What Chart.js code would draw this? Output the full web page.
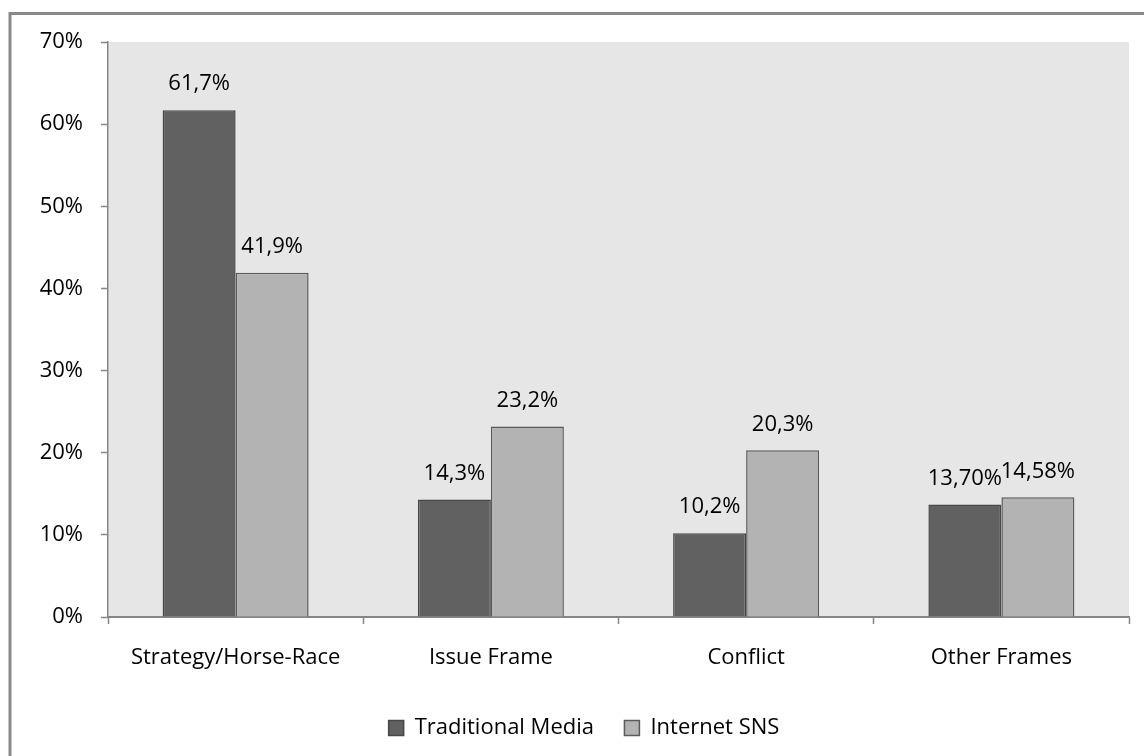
<!DOCTYPE html>
<html>
<head>
<meta charset="utf-8">
<script src="https://cdn.jsdelivr.net/npm/chart.js@4/dist/chart.umd.min.js"></script>
<style>
  html, body { margin: 0; padding: 0; background: #ffffff; }
  #wrap { width: 1144px; height: 756px; position: relative; }
</style>
</head>
<body>
<div id="wrap"><canvas id="chart" width="1144" height="756"></canvas></div>
<script>
// Share of news frames by media type (percent)
const categories = ['Strategy/Horse-Race', 'Issue Frame', 'Conflict', 'Other Frames'];
const traditionalMedia = [61.7, 14.3, 10.2, 13.70];
const internetSNS = [41.9, 23.2, 20.3, 14.58];
const labelDecimals = [1, 1, 1, 2];
const yTicks = [0, 10, 20, 30, 40, 50, 60, 70];

const FONT = "'Open Sans', 'DejaVu Sans', sans-serif";
const FONT_SIZE = 22;
const AXIS_GRAY = '#868686';

// Decimal comma, as printed on the bars
function pct(v, d) {
  return v.toFixed(d).replace('.', ',') + '%';
}

const framePlugin = {
  id: 'frame',
  beforeDraw(chart) {
    const { ctx, chartArea: a } = chart;
    ctx.save();
    ctx.fillStyle = '#ffffff';
    ctx.fillRect(0, 0, chart.width, chart.height);
    // outer border of the chart object
    ctx.strokeStyle = '#898989';
    ctx.lineWidth = 3;
    ctx.strokeRect(10, 13.5, chart.width + 30, chart.height + 30);
    // plot area fill
    ctx.fillStyle = '#e6e6e6';
    ctx.fillRect(a.left, a.top, a.right - a.left, a.bottom - a.top);
    ctx.restore();
  }
};

const valueLabels = {
  id: 'valueLabels',
  afterDatasetsDraw(chart) {
    const { ctx } = chart;
    ctx.save();
    ctx.font = FONT_SIZE + 'px ' + FONT;
    ctx.fillStyle = '#000000';
    ctx.textAlign = 'center';
    ctx.textBaseline = 'middle';
    chart.data.datasets.forEach((ds, di) => {
      chart.getDatasetMeta(di).data.forEach((bar, i) => {
        ctx.fillText(pct(ds.data[i], labelDecimals[i]), bar.x, bar.y - 26);
      });
    });
    ctx.restore();
  }
};

new Chart(document.getElementById('chart'), {
  type: 'bar',
  data: {
    labels: categories,
    datasets: [
      {
        label: 'Traditional Media',
        data: traditionalMedia,
        backgroundColor: '#616161',
        borderColor: '#474747',
        borderWidth: 1.5,
        categoryPercentage: 0.572,
        barPercentage: 1.0
      },
      {
        label: 'Internet SNS',
        data: internetSNS,
        backgroundColor: '#b3b3b3',
        borderColor: '#5a5a5a',
        borderWidth: 1.5,
        categoryPercentage: 0.572,
        barPercentage: 1.0
      }
    ]
  },
  options: {
    responsive: false,
    animation: false,
    devicePixelRatio: 1,
    layout: { padding: { left: 39, right: 15, top: 42, bottom: 7 } },
    plugins: {
      legend: {
        position: 'bottom',
        labels: {
          font: { family: FONT, size: FONT_SIZE },
          color: '#000000',
          boxWidth: 15,
          boxHeight: 15,
          padding: 19,
          generateLabels(chart) {
            const items = Chart.defaults.plugins.legend.labels.generateLabels(chart);
            // a little extra room between neighbouring entries
            items.forEach((it, i) => { if (i < items.length - 1) it.text += '  '; });
            return items;
          }
        }
      },
      tooltip: { enabled: false },
      title: { display: false }
    },
    scales: {
      x: {
        offset: true,
        grid: {
          offset: true,
          drawOnChartArea: false,
          drawTicks: true,
          tickLength: 7,
          tickColor: AXIS_GRAY,
          tickWidth: 1.5
        },
        border: { color: AXIS_GRAY, width: 2 },
        ticks: {
          font: { family: FONT, size: FONT_SIZE },
          color: '#000000',
          padding: 21,
          maxRotation: 0
        },
        afterFit(scale) { scale.height = 81; }
      },
      y: {
        min: 0,
        max: 70,
        afterBuildTicks(scale) { scale.ticks = yTicks.map(v => ({ value: v })); },
        grid: {
          drawOnChartArea: false,
          drawTicks: true,
          tickLength: 7,
          tickColor: AXIS_GRAY,
          tickWidth: 1.5
        },
        border: { color: AXIS_GRAY, width: 1.5 },
        ticks: {
          font: { family: FONT, size: FONT_SIZE },
          color: '#000000',
          padding: 18,
          callback: v => v + '%'
        },
        afterFit(scale) { scale.width = 69; }
      }
    }
  },
  plugins: [framePlugin, valueLabels]
});
</script>
</body>
</html>
